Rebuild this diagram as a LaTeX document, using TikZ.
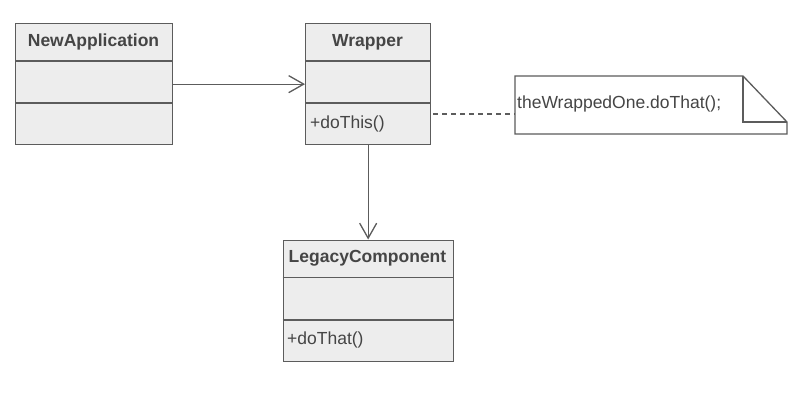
\documentclass[tikz,border=0pt]{standalone}
\usepackage{fontspec}
\setmainfont{Liberation Sans}
\usetikzlibrary{arrows.meta,calc}
\definecolor{boxfill}{HTML}{EDEDED}
\definecolor{linec}{HTML}{5C5C5C}
\definecolor{txt}{HTML}{454545}
\begin{document}
\begin{tikzpicture}[x=1pt,y=-1pt,
  cls/.style={draw=linec, fill=boxfill, line width=1.3pt, minimum width=#1, minimum height=121pt, inner sep=0pt, anchor=north west},
  ttl/.style={font=\fontsize{17.5}{20}\selectfont\bfseries, text=txt, inner sep=0pt},
  op/.style={font=\fontsize{17.5}{20}\selectfont, text=txt, inner sep=0pt, anchor=west},
  divl/.style={draw=linec, line width=1.3pt},
  conn/.style={draw=linec, line width=1.3pt},
  arr/.style={conn, -{Straight Barb[length=15pt,width=17pt,line width=1.3pt]}},
  dsh/.style={draw=linec, line width=1.1pt, dash pattern=on 5pt off 4pt}]
\useasboundingbox (0,0) rectangle (802,412);
\fill[white] (0,0) rectangle (802,412);
% NewApplication
\node[cls=157pt] (na) at (15,23) {};
\node[ttl] (nat) at (93.5,42) {NewApplication};
\draw[divl] (15,61) -- (172,61);
\draw[divl] (15,103) -- (172,103);
% Wrapper
\node[cls=125pt] (wr) at (305,23) {};
\node[ttl] (wrt) at (367.5,42) {Wrapper};
\draw[divl] (305,61) -- (430,61);
\draw[divl] (305,103) -- (430,103);
\node[op] (wrop) at (310,124) {+doThis()};
% LegacyComponent
\node[cls=170pt] (lc) at (282.5,239.5) {};
\node[ttl] (lct) at (367.5,258) {LegacyComponent};
\draw[divl] (282.5,277.5) -- (452.5,277.5);
\draw[divl] (282.5,320) -- (452.5,320);
\node[op] (lcop) at (287,340) {+doThat()};
% Note
\node[inner sep=0pt, minimum width=272pt, minimum height=58pt, anchor=north west] (note) at (515,76) {};
\draw[draw=linec, fill=white, line width=1.3pt] (515,76) -- (743,76) -- (787,122) -- (787,134) -- (515,134) -- cycle;
\draw[draw=linec, line width=1.3pt] (743,76) -- (743,122) -- (787,122);
\node[op] (notet) at (517,104) {theWrappedOne.doThat();};
% connectors
\draw[arr] (na) -- (wr);
\draw[arr] (wr.south) -- (wr.south |- lc.north);
\coordinate (ds) at (433,114);
\draw[dsh] (ds) -- (note.west |- ds);
\end{tikzpicture}
\end{document}
